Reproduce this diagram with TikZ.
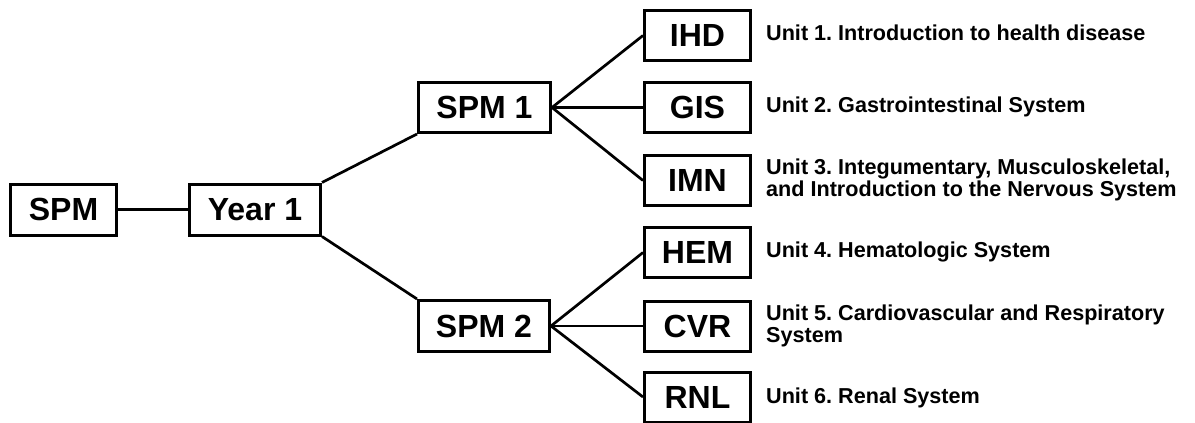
\documentclass[tikz,border=0pt]{standalone}
\usepackage{fontspec}
\setmainfont{Liberation Sans}
\begin{document}
\begin{tikzpicture}[x=1pt,y=-1pt,
  box/.style={draw=black,line width=3pt,fill=white,inner sep=0pt,
    font=\bfseries\fontsize{32}{34}\selectfont},
  leaf/.style={box,minimum width=106pt,minimum height=50pt},
  lbl/.style={anchor=base west,align=left,inner sep=0pt,
    font=\frenchspacing\bfseries\fontsize{21.6}{22}\selectfont},
  conn/.style={line width=2.7pt}]
\useasboundingbox (0,0) rectangle (1195,423);
\node[box,minimum width=106pt,minimum height=51pt] (spm) at (63.5,209.5) {SPM};
\node[box,minimum width=131pt,minimum height=51pt] (y1) at (255,209.5) {Year 1};
\node[box,minimum width=132pt,minimum height=50pt] (s1) at (484.5,107.5) {SPM 1};
\node[box,minimum width=131pt,minimum height=51pt] (s2) at (484,326) {SPM 2};
\node[leaf] (ihd) at (697.5,35.5) {IHD};
\node[leaf] (gis) at (697.5,107.5) {GIS};
\node[leaf] (imn) at (697.5,180.5) {IMN};
\node[leaf] (hem) at (697.5,252.5) {HEM};
\node[leaf] (cvr) at (697.5,326) {CVR};
\node[leaf] (rnl) at (697.5,397) {RNL};
\node[lbl] (l1) at (766,40) {Unit 1. Introduction to health disease};
\node[lbl] (l2) at (766,112) {Unit 2. Gastrointestinal System};
\node[lbl] (l3) at (766,196) {Unit 3. Integumentary, Musculoskeletal,\\and Introduction to the Nervous System};
\node[lbl] (l4) at (766,257) {Unit 4. Hematologic System};
\node[lbl] (l5) at (766,342) {Unit 5. Cardiovascular and Respiratory\\System};
\node[lbl] (l6) at (766,403) {Unit 6. Renal System};
\draw[conn] (spm.east) -- (y1.west);
\draw[conn] (y1.north east) -- (s1.south west);
\draw[conn] (y1.south east) -- (s2.north west);
\draw[conn] (s1.east) -- (ihd.west);
\draw[conn] (s1.east) -- (gis.west);
\draw[conn] (s1.east) -- (imn.west);
\draw[conn] (s2.east) -- (hem.west);
\draw[conn] (s2.east) -- (cvr.west);
\draw[conn] (s2.east) -- (rnl.west);
\end{tikzpicture}
\end{document}
